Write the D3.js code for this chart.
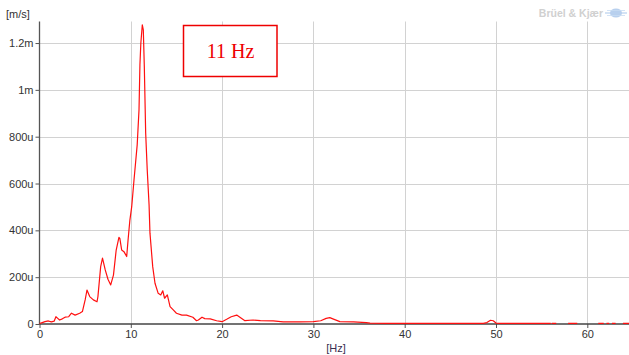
<!DOCTYPE html>
<html><head><meta charset="utf-8">
<script src="https://cdn.jsdelivr.net/npm/d3@7"></script>
<style>
html,body{margin:0;padding:0;background:#fff;}
svg{display:block;}
</style></head>
<body>
<svg id="chart" width="629" height="355"></svg>
<script>
// Frequency (Hz) and velocity amplitude (micro m/s); null = gap in trace
const freqs = [0,0.3,0.6,0.97,1.3,1.6,1.8,2.0,2.2,2.5,2.8,3.2,3.5,3.9,4.4,4.7,5.0,5.2,5.5,5.9,6.3,6.4,6.7,6.9,7.2,7.5,7.8,8.1,8.4,8.7,8.8,9.0,9.25,9.55,9.7,9.9,10.1,10.35,10.5,10.7,10.9,11.0,11.1,11.26,11.37,11.48,11.63,11.8,12.0,12.1,12.4,12.65,13.0,13.28,13.5,13.7,14.0,14.3,14.65,15.0,15.6,16.1,16.8,17.2,17.4,17.8,18.1,18.7,19.4,20.0,20.5,21.0,21.6,21.95,22.5,23.4,24.2,25.6,26.7,28.5,30.0,30.8,31.4,31.8,32.2,32.9,34.4,35.8,36.2,38,42,46,48.6,49.0,49.4,49.7,50.0,50.4,53,56.0,56.05,56.1,56.6,56.8,57.9,58.9,59.1,61.2,61.8,61.95,62.1,62.4,62.55,62.7,63.1,63.3,63.9,64.6];
const values = [2,6,10,13,9,12,31,24,17,22,29,31,46,38,46,53,103,145,117,103,95,117,245,281,231,191,167,209,316,370,366,316,309,288,359,444,501,615,679,765,915,1107,1199,1278,1256,1100,815,658,510,388,245,174,131,124,142,110,124,74,60,46,38,38,29,14,17,29,23,22,14,10,20,31,38,29,14,17,14,13,9,9,10,14,24,27,21,10,9,6,4,3,3,3,3,6,16,14,4,3,3,3,null,3,3,null,3,3,null,3,3,null,3,3,null,3,3,null,3,3];
const xTicks = [0,10,20,30,40,50,60];
const yTicks = [0,200,400,600,800,1000,1200];
const yTickLabels = ["0","200u","400u","600u","800u","1m","1.2m"];
const xUnit = "[Hz]";
const yUnit = "[m/s]";
const annotation = "11 Hz";
const brand = "Brüel & Kjær";

(function () {
const svg = d3.select("#chart");
const mLeft = 39.5, mBottom = 324, mTop = 21.5, mRight = 629;
const x = d3.scaleLinear().domain([0, 64.5]).range([mLeft, mLeft + 64.5 * 9.13]);
const y = d3.scaleLinear().domain([0, 1292]).range([mBottom, mTop]);

const font = "'Liberation Sans', Arial, sans-serif";

// grid
const grid = svg.append("g");
grid.selectAll(".vg").data(xTicks.slice(1)).join("line")
  .attr("x1", d => Math.round(x(d)) + 0.5).attr("x2", d => Math.round(x(d)) + 0.5)
  .attr("y1", mTop).attr("y2", mBottom)
  .attr("stroke", "#d2d2d2").attr("stroke-width", 1);
grid.selectAll(".hg").data(yTicks.slice(1)).join("line")
  .attr("x1", mLeft).attr("x2", mRight)
  .attr("y1", d => Math.round(y(d)) + 0.5).attr("y2", d => Math.round(y(d)) + 0.5)
  .attr("stroke", "#d2d2d2").attr("stroke-width", 1);

// axes
const yAxis = d3.axisLeft(y).tickValues(yTicks).tickSize(4).tickPadding(2)
  .tickFormat((d, i) => yTickLabels[i]);
const gy = svg.append("g").attr("transform", `translate(${mLeft},0)`).call(yAxis);
gy.select(".domain").remove();
gy.selectAll(".tick line").attr("stroke", "#555");
gy.selectAll("text").attr("font-family", font).attr("font-size", 11).attr("fill", "#333");

const xAxis = d3.axisBottom(x).tickValues(xTicks).tickSize(4).tickPadding(2).tickFormat(d3.format("d"));
const gx = svg.append("g").attr("transform", `translate(0,${mBottom})`).call(xAxis);
gx.select(".domain").remove();
gx.selectAll(".tick line").attr("stroke", "#555");
gx.selectAll("text").attr("font-family", font).attr("font-size", 11).attr("fill", "#333");

// axis lines
svg.append("line").attr("x1", mLeft).attr("x2", mLeft).attr("y1", mTop).attr("y2", mBottom + 0.5)
  .attr("stroke", "#555").attr("stroke-width", 1.3);
svg.append("line").attr("x1", mLeft).attr("x2", mRight).attr("y1", mBottom).attr("y2", mBottom)
  .attr("stroke", "#444").attr("stroke-width", 1.3);

// unit labels
svg.append("text").attr("x", 6).attr("y", 18).text(yUnit)
  .attr("font-family", font).attr("font-size", 11).attr("fill", "#333");
svg.append("text").attr("x", 336).attr("y", 352).attr("text-anchor", "middle").text(xUnit)
  .attr("font-family", font).attr("font-size", 11).attr("fill", "#3a3050");

// trace
const pts = freqs.map((f, i) => ({f, v: values[i]}));
const line = d3.line().defined(d => d.v !== null).x(d => x(d.f)).y(d => y(d.v));
svg.append("path").datum(pts).attr("d", line)
  .attr("fill", "none").attr("stroke", "#ff1010").attr("stroke-width", 1.2)
  .attr("stroke-linejoin", "round");

// annotation box
svg.append("rect").attr("x", 183.5).attr("y", 25.5).attr("width", 93.5).attr("height", 51)
  .attr("fill", "#fff").attr("stroke", "#e00").attr("stroke-width", 1.5);
svg.append("text").attr("x", 230.5).attr("y", 57.5).attr("text-anchor", "middle").text(annotation)
  .attr("font-family", "'Liberation Serif', 'Times New Roman', serif").attr("font-size", 20).attr("fill", "#e00");

// brand
svg.append("text").attr("x", 603).attr("y", 17).attr("text-anchor", "end").text(brand)
  .attr("font-family", font).attr("font-weight", "bold").attr("font-size", 10.5).attr("fill", "#d0d0d0");
const logo = svg.append("g").attr("transform", "translate(616,13)");
logo.append("ellipse").attr("rx", 6).attr("ry", 4.5).attr("fill", "#b8d0ee");
logo.append("line").attr("x1", -11).attr("x2", 11).attr("y1", 0).attr("y2", 0).attr("stroke", "#b8d0ee").attr("stroke-width", 1.2);
logo.append("line").attr("x1", -9).attr("x2", 9).attr("y1", -2.5).attr("y2", -2.5).attr("stroke", "#c8dcf2").attr("stroke-width", 0.8);
logo.append("line").attr("x1", -9).attr("x2", 9).attr("y1", 2.5).attr("y2", 2.5).attr("stroke", "#c8dcf2").attr("stroke-width", 0.8);
})();
</script>
</body></html>
